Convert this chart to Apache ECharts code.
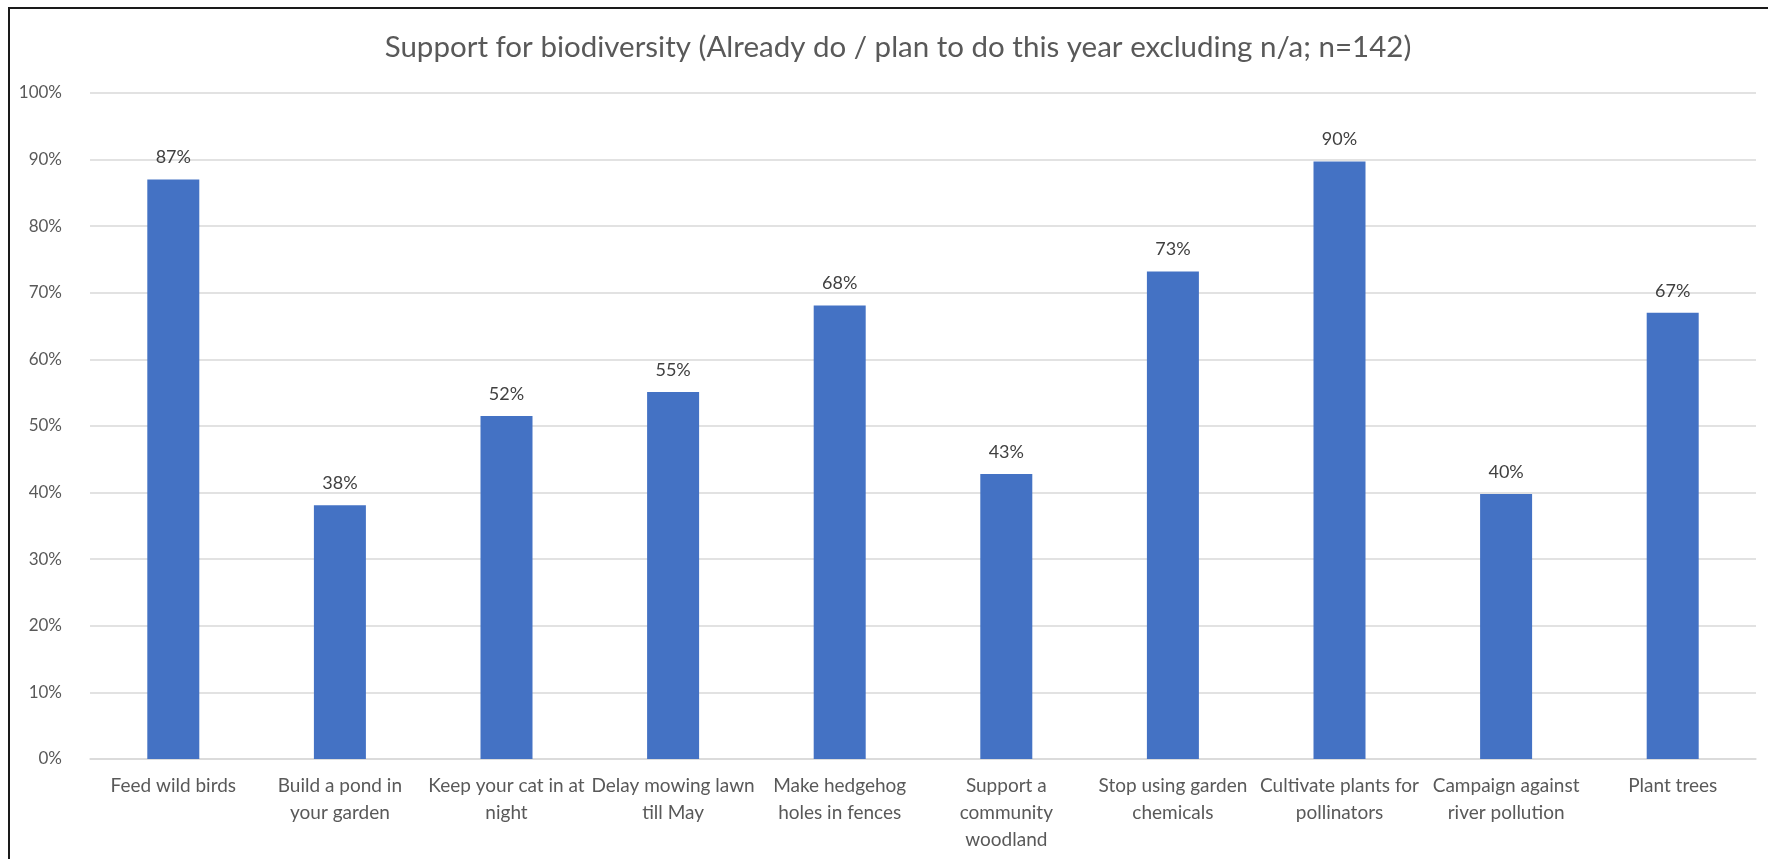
<!DOCTYPE html>
<html>
<head>
<meta charset="utf-8">
<script src="https://cdn.jsdelivr.net/npm/echarts@6/dist/echarts.min.js"></script>
<style>
html,body{margin:0;padding:0;background:#fff;}
#chart{width:1768px;height:859px;}
</style>
</head>
<body>
<div id="chart"></div>
<script>
const titleText = 'Support for biodiversity (Already do / plan to do this year excluding n/a; n=142)';
const categories = [
  'Feed wild birds',
  'Build a pond in\nyour garden',
  'Keep your cat in at\nnight',
  'Delay mowing lawn\ntill May',
  'Make hedgehog\nholes in fences',
  'Support a\ncommunity\nwoodland',
  'Stop using garden\nchemicals',
  'Cultivate plants for\npollinators',
  'Campaign against\nriver pollution',
  'Plant trees'
];
const values = [0.870, 0.381, 0.515, 0.551, 0.681, 0.428, 0.732, 0.897, 0.398, 0.670];
const yTicks = [0, 0.1, 0.2, 0.3, 0.4, 0.5, 0.6, 0.7, 0.8, 0.9, 1.0];

const FONT = 'Lato';
const chart = echarts.init(document.getElementById('chart'));
chart.setOption({
  backgroundColor: '#ffffff',
  animation: false,
  title: {
    text: titleText,
    left: 893,
    top: 27,
    textAlign: 'center',
    textStyle: { fontFamily: FONT, fontSize: 29.5, fontWeight: 'normal', color: '#595959' }
  },
  graphic: [
    { type: 'rect', shape: { x: 9, y: 8, width: 1790, height: 900 }, style: { fill: 'none', stroke: '#1a1a1a', lineWidth: 2 }, silent: true }
  ],
  grid: { left: 90, right: 12, top: 93, bottom: 100, containLabel: false },
  xAxis: {
    type: 'category',
    data: categories,
    axisLine: { show: true, lineStyle: { color: '#d9d9d9', width: 1.5 } },
    axisTick: { show: false },
    axisLabel: {
      interval: 0, margin: 13,
      fontFamily: FONT, fontSize: 19, lineHeight: 27, color: '#595959'
    }
  },
  yAxis: {
    type: 'value',
    min: yTicks[0], max: yTicks[yTicks.length - 1], interval: 0.1,
    axisLine: { show: false },
    axisTick: { show: false },
    splitLine: { lineStyle: { color: '#d9d9d9', width: 1.5 } },
    axisLabel: {
      margin: 28,
      fontFamily: FONT, fontSize: 17, color: '#595959',
      formatter: v => Math.round(v * 100) + '%'
    }
  },
  series: [{
    type: 'bar',
    data: values,
    barWidth: 52,
    itemStyle: { color: '#4472c4' },
    label: {
      show: true, position: 'top', distance: 13,
      fontFamily: FONT, fontSize: 18, color: '#404040',
      formatter: p => Math.round(p.value * 100) + '%'
    }
  }]
});
</script>
</body>
</html>
